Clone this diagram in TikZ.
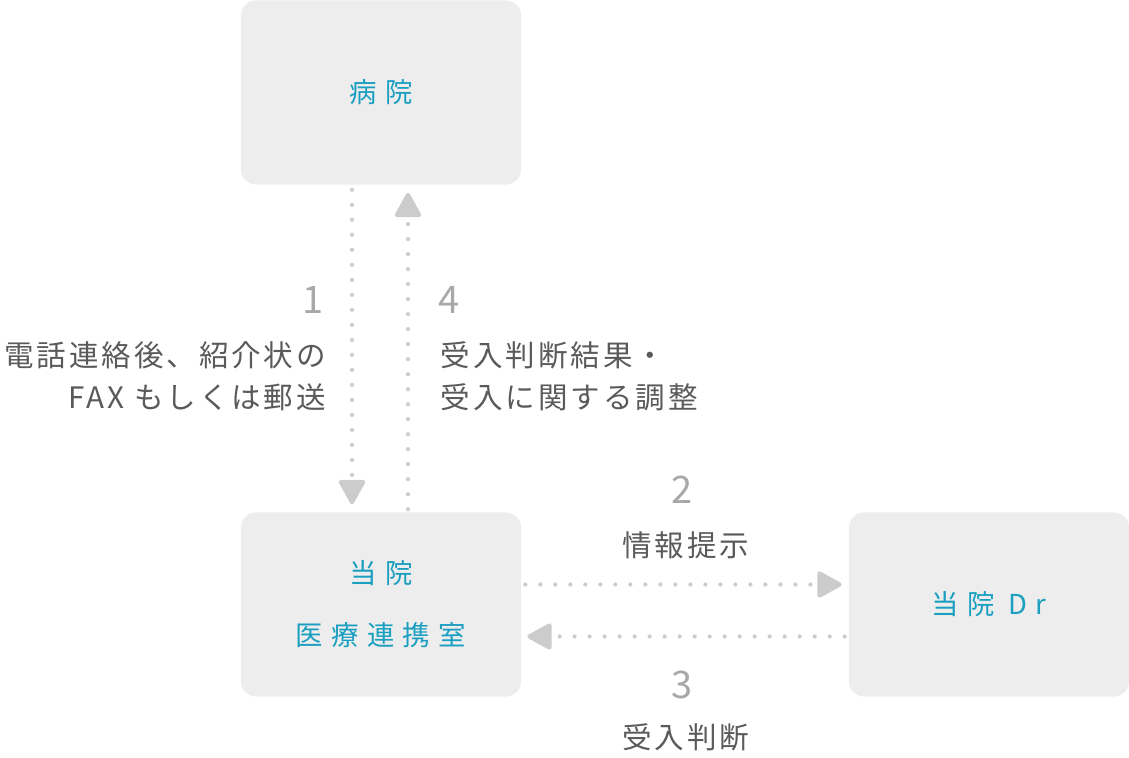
\documentclass[tikz,border=0pt]{standalone}
\usepackage{fontspec}
\setmainfont{Noto Sans CJK JP}
\newfontfamily\jplabel[LetterSpace=10]{Noto Sans CJK JP}
\newfontfamily\jpbox[LetterSpace=30]{Noto Sans CJK JP}
\usepackage{tikz}
\usetikzlibrary{positioning}
\usetikzlibrary{calc}
\usetikzlibrary{arrows.meta}
\definecolor{boxgray}{HTML}{EDEDED}
\definecolor{boxtext}{HTML}{1A9FC1}
\definecolor{labeltext}{HTML}{5A5A5A}
\definecolor{steptext}{HTML}{A8A8A8}
\definecolor{dotgray}{HTML}{CCCCCC}
\tikzset{
	place/.style = {fill = boxgray, rounded corners = 0.375cm, minimum width = 7cm, minimum height = 4.6cm, text = boxtext, font = \jpbox\fontsize{19.5pt}{22pt}\selectfont, align = center},
	stepnum/.style = {text = steptext, font = \fontsize{27pt}{30pt}\selectfont},
	steplabel/.style = {text = labeltext, font = \jplabel\fontsize{21pt}{29.9pt}\selectfont},
	dotarrow/.style = {draw = dotgray, line width = 3pt, line cap = round, dash pattern = on 0pt off 10.67pt, -{Triangle[length = 19pt, width = 20pt, round]}}
}

\begin{document}
\begin{tikzpicture}[x=0.025cm, y=-0.025cm]
		\useasboundingbox (0,0) rectangle (1129,757);
		\node[place] at (381,92.5) (hosp) {病院};
		\node[place] at (381,604.5) (renkei) {当院\\[22pt]医療連携室};
		\node[place] at (989,604.5) (dr) {当院 Dr};
		\draw[dotarrow] ($(hosp.south)+(-29,5)$) to ($(renkei.north)+(-29,-8)$);
		\draw[dotarrow] ($(renkei.north)+(27,-3)$) to ($(hosp.south)+(27,8)$);
		\draw[dotarrow] ($(renkei.east)+(4,-20)$) to ($(dr.west)+(-7,-20)$);
		\draw[dotarrow] ($(dr.west)+(-4,32)$) to ($(renkei.east)+(6,32)$);
		\node[stepnum] at (313,300) (n1) {1};
		\node[steplabel, anchor = east, align = right] at (331,376) (l1) {電話連絡後、紹介状の\\FAX もしくは郵送};
		\node[stepnum] at (449,300) (n4) {4};
		\node[steplabel, anchor = west, align = left] at (436,376) (l4) {受入判断結果・\\受入に関する調整};
		\node[stepnum] at (682,490) (n2) {2};
		\node[steplabel] at (686,545) (l2) {情報提示};
		\node[stepnum] at (682,685) (n3) {3};
		\node[steplabel] at (686,737) (l3) {受入判断};
	\end{tikzpicture}
\end{document}
